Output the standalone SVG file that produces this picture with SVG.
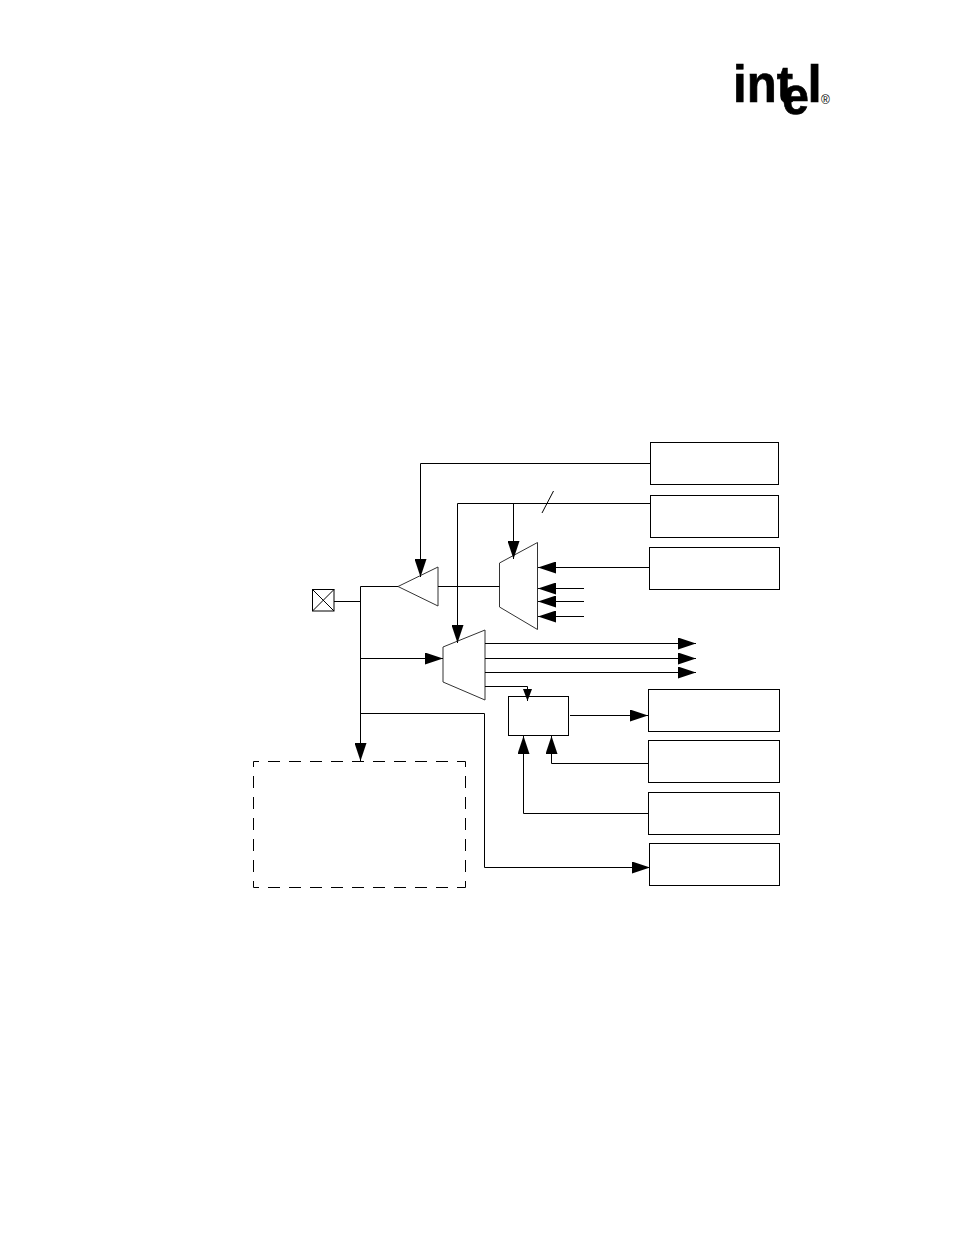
<svg xmlns="http://www.w3.org/2000/svg" width="954" height="1235" viewBox="0 0 954 1235">
<style>
.n{fill:#fff;stroke:#000;stroke-width:1}
.m{fill:#fff;stroke:#333;stroke-width:1}
.c{fill:none;stroke:#000;stroke-width:1}
.d{fill:none;stroke:#000;stroke-width:1;stroke-dasharray:12 9;stroke-dashoffset:6.5}
.l{font-family:"Liberation Sans",Arial,sans-serif;fill:#000}
.b{font-weight:700;stroke:#000;stroke-width:0.7}
</style>
<defs>
<marker id="a" markerUnits="userSpaceOnUse" markerWidth="18" markerHeight="12" refX="18" refY="6" orient="auto"><path d="M0 0L18 6L0 12Z" fill="#000"/></marker>
<marker id="s" markerUnits="userSpaceOnUse" markerWidth="12" markerHeight="10" refX="12" refY="5" orient="auto"><path d="M0 0.5L12 5L0 9.5Z" fill="#000"/></marker>
</defs>
<rect width="954" height="1235" fill="#fff"/>
<g id="logo">
<text class="l b" x="733" y="102" font-size="51" textLength="60" lengthAdjust="spacingAndGlyphs">int</text>
<text class="l b" x="782" y="114" font-size="54" textLength="27" lengthAdjust="spacingAndGlyphs">e</text>
<text class="l b" x="807.5" y="102" font-size="51">l</text>
<text class="l" x="821" y="104" font-size="12">®</text>
</g>
<g id="pad"><rect class="n" x="312.5" y="589.5" width="21.5" height="21.5"/><path class="c" d="M312.5 589.5L334 611M334 589.5L312.5 611" stroke-width="0.6"/></g>
<g id="buffer"><path class="m" d="M398 586.5L438 567V606Z"/></g>
<g id="mux-out"><path class="m" d="M499.5 563L537.5 542.5V629.5L499.5 607Z"/></g>
<g id="mux-in"><path class="m" d="M443 647L485 630V700L443 682Z"/></g>
<g id="latch"><rect class="n" x="508.5" y="696.5" width="60" height="39"/></g>
<g id="box1"><rect class="n" x="650.5" y="442.5" width="128" height="42"/></g>
<g id="box2"><rect class="n" x="650.5" y="495.5" width="128" height="42"/></g>
<g id="box3"><rect class="n" x="649.5" y="547.5" width="130" height="42"/></g>
<g id="box4"><rect class="n" x="648.5" y="689.5" width="131" height="42"/></g>
<g id="box5"><rect class="n" x="648.5" y="740.5" width="131" height="42"/></g>
<g id="box6"><rect class="n" x="648.5" y="792.5" width="131" height="42"/></g>
<g id="box7"><rect class="n" x="649.5" y="843.5" width="130" height="42"/></g>
<g id="dashed"><path class="d" d="M253.5 761.5H465.5"/><path class="d" d="M253.5 887.5H465.5"/><path class="d" d="M253.5 761.5V887.5"/><path class="d" d="M465.5 761.5V887.5"/></g>
<g id="connectors">
<path class="c" d="M334 601.5H360.5M398 586.5H360.5V761" marker-end="url(#a)"/>
<path class="c" d="M650 463.5H420.5V577" marker-end="url(#a)"/>
<path class="c" d="M438 586.5H499.5"/>
<path class="c" d="M650 503.5H457.5V643" marker-end="url(#a)"/>
<path class="c" d="M513.5 503.5V559" marker-end="url(#a)"/>
<path class="c" d="M553.5 491L542 513"/>
<path class="c" d="M650 567.5H538" marker-end="url(#a)"/>
<path class="c" d="M584 588.5H538" marker-end="url(#a)"/>
<path class="c" d="M584 601.5H538" marker-end="url(#a)"/>
<path class="c" d="M584 616.5H538" marker-end="url(#a)"/>
<path class="c" d="M360.5 658.5H443" marker-end="url(#a)"/>
<path class="c" d="M485 643.5H696" marker-end="url(#a)"/>
<path class="c" d="M485 658.5H696" marker-end="url(#a)"/>
<path class="c" d="M485 672.5H696" marker-end="url(#a)"/>
<path class="c" d="M485 686.5H527.5V701" marker-end="url(#s)"/>
<path class="c" d="M570 715.5H648" marker-end="url(#a)"/>
<path class="c" d="M648 763.5H551.5V736" marker-end="url(#a)"/>
<path class="c" d="M648 813.5H523.5V736" marker-end="url(#a)"/>
<path class="c" d="M360.5 713.5H484.5V867.5H650" marker-end="url(#a)"/>
</g>
</svg>
